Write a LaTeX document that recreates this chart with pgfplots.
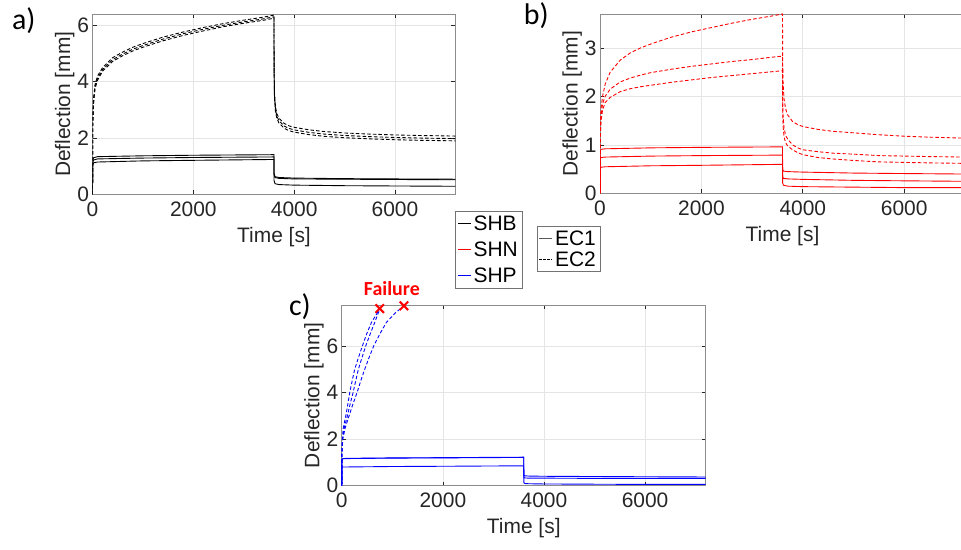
\documentclass[border=0pt]{standalone}
\usepackage{pgfplots}
\pgfplotsset{compat=1.18}
\usepackage{fontspec}
\setmainfont{Liberation Sans}
\newfontfamily\calfont{Carlito}
\begin{document}
\pgfplotsset{
  myax/.style={
    scale only axis,
    xmin=0, xmax=7200,
    xtick={0,2000,4000,6000},
    scaled x ticks=false,
    /pgf/number format/1000 sep={},
    /pgf/number format/assume math mode=true,
    grid=major,
    grid style={black!10, line width=0.6pt},
    axis line style={black!45, line width=0.6pt},
    tick style={black!85, line width=0.6pt},
    major tick length=4pt,
    tick align=inside,
    ticklabel style={font=\fontsize{21}{25}\selectfont, text=black!85},
    xticklabel style={yshift=-4pt},
    label style={font=\fontsize{21}{25}\selectfont, text=black!85},
    xlabel={Time [s]},
    ylabel={Deflection [mm]},
    xlabel style={yshift=-4pt},
    ylabel style={yshift=-4pt},
    legend image code/.code={\draw[#1] (0pt,0pt) -- (13pt,0pt);},
  },
  dsh/.style={line width=0.9pt, dash pattern=on 3.5pt off 2.2pt, forget plot},
  sld/.style={line width=0.9pt, forget plot},
}
\begin{tikzpicture}
\useasboundingbox (0,0) rectangle (961pt,-551pt);

% ---------------- panel a ----------------
\begin{axis}[myax, at={(90pt,-195pt)}, anchor=south west,
  width=364pt, height=181pt, ymin=0, ymax=6.4, ytick={0,2,4,6},
  legend style={at={(1.0,-0.094)}, anchor=north west, draw=black!55, fill=white,
    font=\fontsize{21}{24}\selectfont, inner sep=2pt, row sep=6pt,
    cells={anchor=west}},
  legend cell align=left]
\addlegendimage{draw=black, line width=1pt}\addlegendentry{SHB}
\addlegendimage{draw=red, line width=1pt}\addlegendentry{SHN}
\addlegendimage{draw=blue, line width=1pt}\addlegendentry{SHP}
\addplot[dsh, black] coordinates {(0,0) (5,2.6) (20,3.4) (50,3.9) (100,4.2) (200,4.5) (400,4.85) (600,5.05) (800,5.22) (1000,5.35) (1400,5.58) (1800,5.76) (2200,5.92) (2600,6.06) (3000,6.18) (3400,6.29) (3600,6.36)
 (3602,4.5) (3610,3.6) (3630,3.1) (3660,2.85) (3700,2.7) (3800,2.52) (3900,2.43) (4000,2.38) (4300,2.29) (4600,2.23) (5000,2.18) (5500,2.14) (6000,2.11) (6500,2.09) (7200,2.07)};
\addplot[dsh, black] coordinates {(0,0) (5,2.5) (20,3.3) (50,3.82) (100,4.12) (200,4.43) (400,4.78) (600,4.98) (800,5.15) (1000,5.28) (1400,5.51) (1800,5.7) (2200,5.86) (2600,6.0) (3000,6.12) (3400,6.23) (3600,6.3)
 (3602,4.4) (3610,3.5) (3630,3.0) (3660,2.76) (3700,2.61) (3800,2.43) (3900,2.34) (4000,2.29) (4300,2.2) (4600,2.14) (5000,2.09) (5500,2.05) (6000,2.02) (6500,2.0) (7200,1.98)};
\addplot[dsh, black] coordinates {(0,0) (5,2.4) (20,3.2) (50,3.75) (100,4.05) (200,4.37) (400,4.72) (600,4.92) (800,5.09) (1000,5.22) (1400,5.45) (1800,5.64) (2200,5.8) (2600,5.95) (3000,6.07) (3400,6.18) (3600,6.25)
 (3602,4.3) (3610,3.4) (3630,2.92) (3660,2.68) (3700,2.53) (3800,2.35) (3900,2.26) (4000,2.21) (4300,2.12) (4600,2.06) (5000,2.01) (5500,1.97) (6000,1.94) (6500,1.92) (7200,1.9)};
\addplot[sld, black] coordinates {(0,0) (2,1.2) (20,1.3) (100,1.34) (1000,1.37) (2000,1.39) (3600,1.41) (3601,0.75) (3620,0.63) (3700,0.6) (4000,0.58) (5000,0.56) (6000,0.55) (7200,0.54)};
\addplot[sld, black] coordinates {(0,0) (2,1.12) (20,1.22) (100,1.26) (1000,1.29) (2000,1.31) (3600,1.33) (3601,0.7) (3620,0.6) (3700,0.57) (4000,0.55) (5000,0.54) (6000,0.53) (7200,0.52)};
\addplot[sld, black] coordinates {(0,0) (2,1.02) (20,1.12) (100,1.15) (1000,1.19) (2000,1.21) (3600,1.24) (3601,0.5) (3620,0.38) (3700,0.35) (4000,0.33) (5000,0.31) (6000,0.3) (7200,0.29)};
\end{axis}

% ---------------- panel b ----------------
\begin{axis}[myax, at={(599pt,-194pt)}, anchor=south west,
  width=366pt, height=180pt, ymin=0, ymax=3.7, ytick={0,1,2,3},
  legend style={at={(0,-0.183)}, anchor=north east, draw=black!55, fill=white,
    font=\fontsize{21}{24}\selectfont, inner sep=2pt, row sep=1pt,
    cells={anchor=west}},
  legend cell align=left]
\addlegendimage{draw=black!65, line width=1.4pt}\addlegendentry{EC1}
\addlegendimage{draw=black, line width=1pt, dash pattern=on 2.5pt off 1.5pt}\addlegendentry{EC2}
\addplot[dsh, red] coordinates {(0,0) (5,1.3) (20,1.75) (50,2.0) (100,2.25) (200,2.5) (400,2.75) (600,2.9) (800,3.0) (1000,3.08) (1400,3.22) (1800,3.33) (2200,3.42) (2600,3.51) (3000,3.59) (3400,3.66) (3600,3.7)
 (3602,2.8) (3610,2.3) (3630,1.95) (3660,1.75) (3700,1.62) (3800,1.48) (3900,1.42) (4000,1.38) (4300,1.32) (4600,1.28) (5000,1.25) (5500,1.21) (6000,1.18) (6500,1.16) (7200,1.14)};
\addplot[dsh, red] coordinates {(0,0) (5,1.2) (20,1.6) (50,1.85) (100,2.0) (200,2.15) (400,2.3) (600,2.38) (800,2.44) (1000,2.49) (1400,2.56) (1800,2.62) (2200,2.67) (2600,2.72) (3000,2.76) (3400,2.81) (3600,2.83)
 (3602,2.0) (3610,1.6) (3630,1.35) (3660,1.2) (3700,1.12) (3800,1.0) (3900,0.94) (4000,0.9) (4300,0.86) (4600,0.83) (5000,0.81) (5500,0.78) (6000,0.77) (6500,0.76) (7200,0.75)};
\addplot[dsh, red] coordinates {(0,0) (5,1.1) (20,1.5) (50,1.72) (100,1.87) (200,1.98) (400,2.1) (600,2.16) (800,2.2) (1000,2.23) (1400,2.29) (1800,2.34) (2200,2.39) (2600,2.43) (3000,2.47) (3400,2.51) (3600,2.53)
 (3602,1.8) (3610,1.4) (3630,1.17) (3660,1.05) (3700,0.98) (3800,0.9) (3900,0.84) (4000,0.8) (4300,0.74) (4600,0.71) (5000,0.68) (5500,0.65) (6000,0.64) (6500,0.63) (7200,0.62)};
\addplot[sld, red] coordinates {(0,0) (2,0.88) (20,0.91) (100,0.92) (1000,0.94) (2000,0.95) (3600,0.96) (3601,0.5) (3620,0.46) (3700,0.45) (4000,0.44) (5000,0.42) (6000,0.41) (7200,0.40)};
\addplot[sld, red] coordinates {(0,0) (2,0.7) (20,0.74) (100,0.75) (1000,0.77) (2000,0.78) (3600,0.79) (3601,0.35) (3620,0.31) (3700,0.30) (4000,0.29) (5000,0.27) (6000,0.26) (7200,0.25)};
\addplot[sld, red] coordinates {(0,0) (2,0.5) (20,0.54) (100,0.55) (1000,0.57) (2000,0.58) (3600,0.6) (3601,0.22) (3620,0.17) (3700,0.15) (4000,0.14) (5000,0.13) (6000,0.12) (7200,0.12)};
\end{axis}

% ---------------- panel c ----------------
\begin{axis}[myax, at={(340pt,-487pt)}, anchor=south west,
  width=365pt, height=181pt, ymin=0, ymax=7.75, ytick={0,2,4,6}, clip=false]
\addplot[dsh, blue] coordinates {(0,0) (3,1.5) (10,2.0) (30,2.5) (80,3.0) (120,3.5) (158,4.0) (205,4.5) (256,5.0) (330,5.5) (408,6.0) (490,6.5) (585,7.0) (670,7.3) (750,7.6)};
\addplot[dsh, blue] coordinates {(0,0) (3,1.4) (15,2.0) (50,2.5) (112,3.0) (165,3.5) (224,4.0) (275,4.5) (329,5.0) (400,5.5) (474,6.0) (560,6.5) (650,7.0) (720,7.4) (755,7.58)};
\addplot[dsh, blue] coordinates {(0,0) (3,1.4) (20,2.0) (70,2.5) (145,3.0) (220,3.5) (303,4.0) (375,4.5) (454,5.0) (540,5.5) (632,6.0) (750,6.5) (880,7.0) (1050,7.4) (1230,7.72)};
\addplot[sld, blue] coordinates {(0,0) (2,1.13) (20,1.16) (100,1.17) (1000,1.19) (2000,1.2) (3600,1.22) (3601,0.45) (3620,0.42) (3700,0.41) (4000,0.4) (5000,0.39) (6000,0.38) (7200,0.37)};
\addplot[sld, blue] coordinates {(0,0) (2,1.12) (20,1.15) (100,1.16) (1000,1.18) (2000,1.19) (3600,1.21) (3601,0.36) (3620,0.33) (3700,0.32) (4000,0.32) (5000,0.31) (6000,0.31) (7200,0.31)};
\addplot[sld, blue] coordinates {(0,0) (2,0.78) (20,0.8) (100,0.8) (1000,0.82) (2000,0.83) (3600,0.85) (3601,0.12) (3620,0.09) (3700,0.08) (4000,0.07) (5000,0.06) (6000,0.05) (7200,0.05)};
\addplot[only marks, mark=x, red, mark size=6pt, line width=2pt, forget plot] coordinates {(750,7.6) (1230,7.72)};
\node[font=\calfont\bfseries\fontsize{20}{22}\selectfont, text=red] at (axis cs:990,8.46) {Failure};
\end{axis}

% panel labels
\node[font=\calfont\fontsize{30}{32}\selectfont, text=black] at (21pt,-21pt) {a)};
\node[font=\calfont\fontsize{30}{32}\selectfont, text=black] at (535pt,-16pt) {b)};
\node[font=\calfont\fontsize{30}{32}\selectfont, text=black] at (298pt,-308pt) {c)};
\end{tikzpicture}
\end{document}
